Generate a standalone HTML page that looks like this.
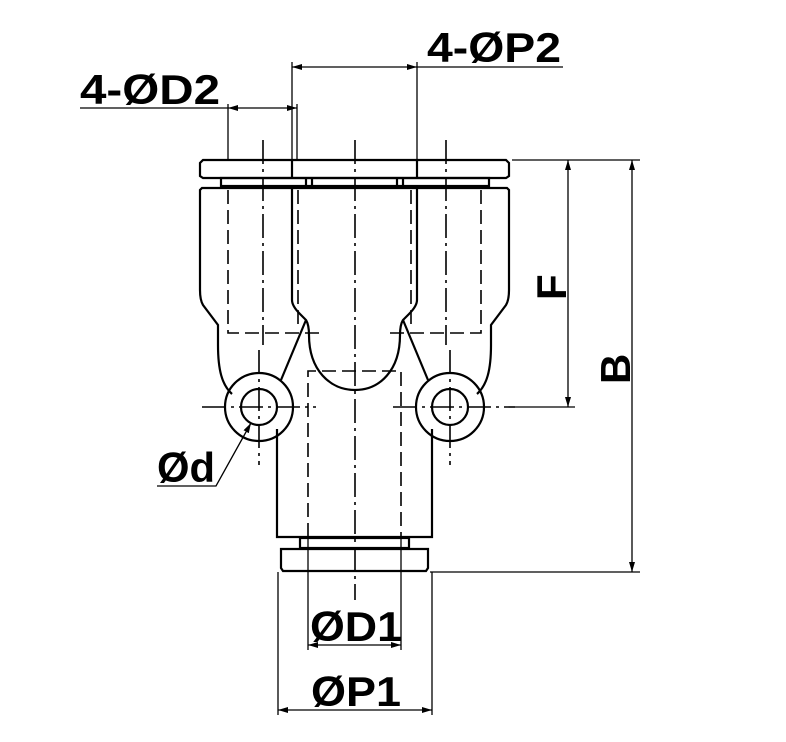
<!DOCTYPE html>
<html><head><style>body{margin:0;background:#fff}svg{display:block}text{font-family:"Liberation Sans",sans-serif;font-weight:bold;fill:#000}</style></head><body>
<svg width="786" height="742" viewBox="0 0 786 742" xmlns="http://www.w3.org/2000/svg">
<defs><marker id="a" viewBox="0 0 10 6" refX="10" refY="3" markerWidth="10" markerHeight="6" orient="auto-start-reverse" markerUnits="userSpaceOnUse"><path d="M0,0L10,3L0,6z" fill="#000"/></marker></defs>
<g fill="none" stroke="#000" stroke-width="2.2">
<path d="M203,160 H506 L509,163 V176 L506,178 H203 L200,176 V163Z"/>
<line x1="292" y1="160" x2="292" y2="178"/><line x1="417" y1="160" x2="417" y2="178"/>
<rect x="221" y="178" width="268" height="8"/>
<line x1="306" y1="178" x2="306" y2="186"/><line x1="312" y1="178" x2="312" y2="186"/><line x1="397" y1="178" x2="397" y2="186"/><line x1="403" y1="178" x2="403" y2="186"/>
<path d="M232,394 C222,385 218,370 218,345 V325 L203,305 Q200,300 200,290 V190 L202,188 H507 L509,190 V290 Q509,300 506,305 L491,325 V345 C491,370 487,385 477,394"/>
<path d="M292,188 V300 Q292,306 300,314 L306,320 Q309,325 309,335 C309,370 330,390 355,390 C380,390 400,370 400,335 Q400,325 403,320 L409,314 Q417,306 417,300 V188"/>
<path d="M306,320 L281,380"/><path d="M403,320 L428,380"/>
<circle cx="259" cy="407" r="34"/><circle cx="259" cy="407" r="18"/>
<circle cx="450" cy="407" r="34"/><circle cx="450" cy="407" r="18"/>
<path d="M277,429 V537 H432 V429"/>
<rect x="300" y="538" width="109" height="10"/>
<path d="M281,549 H428 V568 L426,571 H283 L281,568Z"/>
</g>
<g fill="none" stroke="#000" stroke-width="1.6" stroke-dasharray="14,6">
<path d="M228,190 V333 H322"/><path d="M481,190 V333 H387"/>
<line x1="298" y1="190" x2="298" y2="330"/><line x1="411" y1="190" x2="411" y2="330"/>
<path d="M308,537 V371 H401 V537"/>
</g>
<g fill="none" stroke="#000" stroke-width="1.6" stroke-dasharray="24,5,3,5">
<line x1="263" y1="140" x2="263" y2="345"/><line x1="446" y1="140" x2="446" y2="345"/>
<line x1="355" y1="140" x2="355" y2="600"/>
<line x1="202" y1="407" x2="316" y2="407"/><line x1="393" y1="407" x2="515" y2="407"/>
<line x1="259" y1="350" x2="259" y2="465"/><line x1="450" y1="350" x2="450" y2="465"/>
</g>
<g fill="none" stroke="#000" stroke-width="1.3">
<line x1="292" y1="62" x2="292" y2="160"/><line x1="417" y1="62" x2="417" y2="160"/>
<line x1="292" y1="67" x2="417" y2="67" marker-start="url(#a)" marker-end="url(#a)"/>
<line x1="417" y1="67" x2="563" y2="67"/>
<line x1="228" y1="104" x2="228" y2="160"/><line x1="297" y1="104" x2="297" y2="160"/>
<line x1="80" y1="108" x2="228" y2="108"/>
<line x1="228" y1="108" x2="297" y2="108" marker-start="url(#a)" marker-end="url(#a)"/>
<line x1="512" y1="160" x2="640" y2="160"/><line x1="515" y1="407" x2="575" y2="407"/>
<line x1="568" y1="160" x2="568" y2="407" marker-start="url(#a)" marker-end="url(#a)"/>
<line x1="430" y1="572" x2="640" y2="572"/>
<line x1="632" y1="160" x2="632" y2="572" marker-start="url(#a)" marker-end="url(#a)"/>
<path d="M157,486 H216 L251,423" marker-end="url(#a)"/>
<line x1="308" y1="537" x2="308" y2="650"/><line x1="401" y1="537" x2="401" y2="650"/>
<line x1="308" y1="645" x2="401" y2="645" marker-start="url(#a)" marker-end="url(#a)"/>
<line x1="278" y1="572" x2="278" y2="715"/><line x1="432" y1="572" x2="432" y2="715"/>
<line x1="278" y1="710" x2="432" y2="710" marker-start="url(#a)" marker-end="url(#a)"/>
</g>
<text x="427" y="62" font-size="42" textLength="134" lengthAdjust="spacingAndGlyphs">4-ØP2</text>
<text x="80" y="104" font-size="42" textLength="140" lengthAdjust="spacingAndGlyphs">4-ØD2</text>
<text x="157" y="482" font-size="42" textLength="58" lengthAdjust="spacingAndGlyphs">Ød</text>
<text x="310" y="641" font-size="42" textLength="92" lengthAdjust="spacingAndGlyphs">ØD1</text>
<text x="311" y="706" font-size="42" textLength="90" lengthAdjust="spacingAndGlyphs">ØP1</text>
<text transform="translate(566,300) rotate(-90)" font-size="42">F</text>
<text transform="translate(630,384) rotate(-90)" font-size="42">B</text>
</svg>
</body></html>
